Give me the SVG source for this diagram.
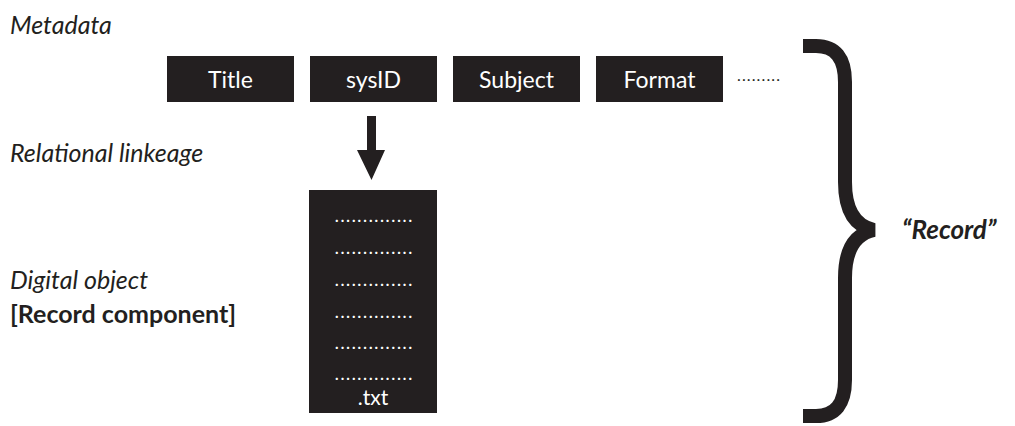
<svg xmlns="http://www.w3.org/2000/svg" width="1015" height="426" viewBox="0 0 1015 426">
<style>
.lbl{font-family:Lato,"Open Sans",sans-serif;font-size:25px;fill:#231f20}
.it{font-style:italic}
.bd{font-weight:bold}
.box{fill:#231f20}
.bt{font-family:Lato,"Open Sans",sans-serif;font-size:23px;fill:#ffffff;text-anchor:middle}
.dots{font-family:Lato,"Open Sans",sans-serif;font-size:15px;font-weight:bold;fill:#ffffff}
</style>
<rect width="1015" height="426" fill="#ffffff"/>
<g id="labels">
<text class="lbl it" x="10" y="34">Metadata</text>
<text class="lbl it" x="10" y="162">Relational linkeage</text>
<text class="lbl it" x="10" y="289">Digital object</text>
<text class="lbl bd" x="10" y="323">[Record component]</text>
</g>
<g id="node-title"><rect class="box" x="167" y="56" width="127" height="46"/><text class="bt" x="230.5" y="88">Title</text></g>
<g id="node-sysid"><rect class="box" x="310" y="56" width="127" height="46"/><text class="bt" x="373.5" y="88">sysID</text></g>
<g id="node-subject"><rect class="box" x="453" y="56" width="127" height="46"/><text class="bt" x="516.5" y="88">Subject</text></g>
<g id="node-format"><rect class="box" x="596" y="56" width="127" height="46"/><text class="bt" x="659.5" y="88">Format</text></g>
<g id="node-more"><text class="lbl" x="737" y="81" textLength="43" lengthAdjust="spacing" style="font-size:16px">.........</text></g>
<g id="connectors">
<path d="M367,116 H376 V150 H385 L371.5,180 L357,150 H367 Z" fill="#231f20"/>
</g>
<g id="node-object">
<rect class="box" x="309" y="190" width="128" height="223"/>
<text class="dots" x="335" y="222" textLength="77" lengthAdjust="spacing">..............</text>
<text class="dots" x="335" y="254" textLength="77" lengthAdjust="spacing">..............</text>
<text class="dots" x="335" y="286" textLength="77" lengthAdjust="spacing">..............</text>
<text class="dots" x="335" y="318" textLength="77" lengthAdjust="spacing">..............</text>
<text class="dots" x="335" y="349" textLength="77" lengthAdjust="spacing">..............</text>
<text class="dots" x="335" y="380" textLength="77" lengthAdjust="spacing">..............</text>
<text class="bt" x="373" y="405" style="font-size:21px">.txt</text>
</g>
<g id="brace">
<path d="M803,46 H816 Q845,46 845,82 V182 Q845,224 874,230 Q845,236 845,278 V380 Q845,416 816,416 H803" fill="none" stroke="#231f20" stroke-width="14"/>
</g>
<g id="record-label"><text class="lbl it bd" x="902" y="239" style="font-size:26px">“Record”</text></g>
</svg>
